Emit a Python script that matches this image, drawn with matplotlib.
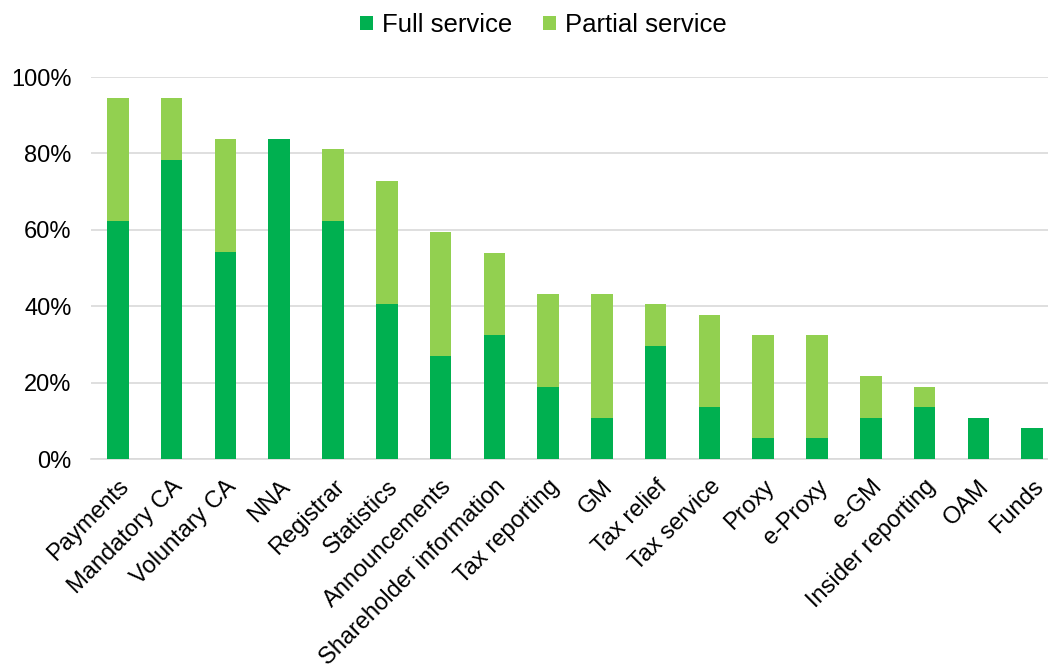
import numpy as np
import matplotlib.pyplot as plt
from matplotlib.ticker import PercentFormatter

plt.rcParams['font.family'] = ['Liberation Sans', 'DejaVu Sans']

categories = ['Payments', 'Mandatory CA', 'Voluntary CA', 'NNA', 'Registrar',
              'Statistics', 'Announcements', 'Shareholder information',
              'Tax reporting', 'GM', 'Tax relief', 'Tax service', 'Proxy',
              'e-Proxy', 'e-GM', 'Insider reporting', 'OAM', 'Funds']
full_service = [62.2, 78.4, 54.1, 83.8, 62.2, 40.5, 27.0, 32.4, 18.9, 10.8,
                29.7, 13.5, 5.4, 5.4, 10.8, 13.5, 10.8, 8.1]
partial_service = [32.4, 16.2, 29.7, 0.0, 18.9, 32.4, 32.4, 21.6, 24.3, 32.4,
                   10.8, 24.3, 27.0, 27.0, 10.8, 5.4, 0.0, 0.0]

full_color = '#00B050'
partial_color = '#92D050'

fig = plt.figure(figsize=(10.48, 6.66), dpi=100)
ax = fig.add_axes([91 / 1048, 1 - 459 / 666, (1059 - 91) / 1048, (459 - 77) / 666])

x = np.arange(len(categories))
w = 0.4
ax.bar(x, full_service, w, color=full_color, label='Full service', zorder=3)
ax.bar(x, partial_service, w, bottom=full_service, color=partial_color,
       label='Partial service', zorder=3)

ax.set_xlim(-0.5, len(categories) - 0.5)
ax.set_ylim(0, 100)
ax.set_yticks(np.arange(0, 101, 20))
ax.yaxis.set_major_formatter(PercentFormatter(decimals=0))
ax.yaxis.grid(True, color='#D9D9D9', linewidth=1.2, zorder=0)
ax.set_axisbelow(True)

for s in ['top', 'right', 'left']:
    ax.spines[s].set_visible(False)
ax.spines['bottom'].set_color('#D9D9D9')
ax.spines['bottom'].set_linewidth(1.2)

ax.tick_params(axis='y', length=0, pad=14, labelsize=17)
ax.tick_params(axis='x', length=0, pad=12, labelsize=17)
ax.set_xticks(x)
ax.set_xticklabels(categories, rotation=45, ha='right', rotation_mode='anchor')

fig.legend(loc='center', bbox_to_anchor=(543 / 1048, 1 - 25 / 666), ncol=2,
           frameon=False, fontsize=18.5, handlelength=0.5, handleheight=0.5,
           handletextpad=0.35, columnspacing=1.2, borderpad=0)

fig.savefig('out.png', dpi=100)
